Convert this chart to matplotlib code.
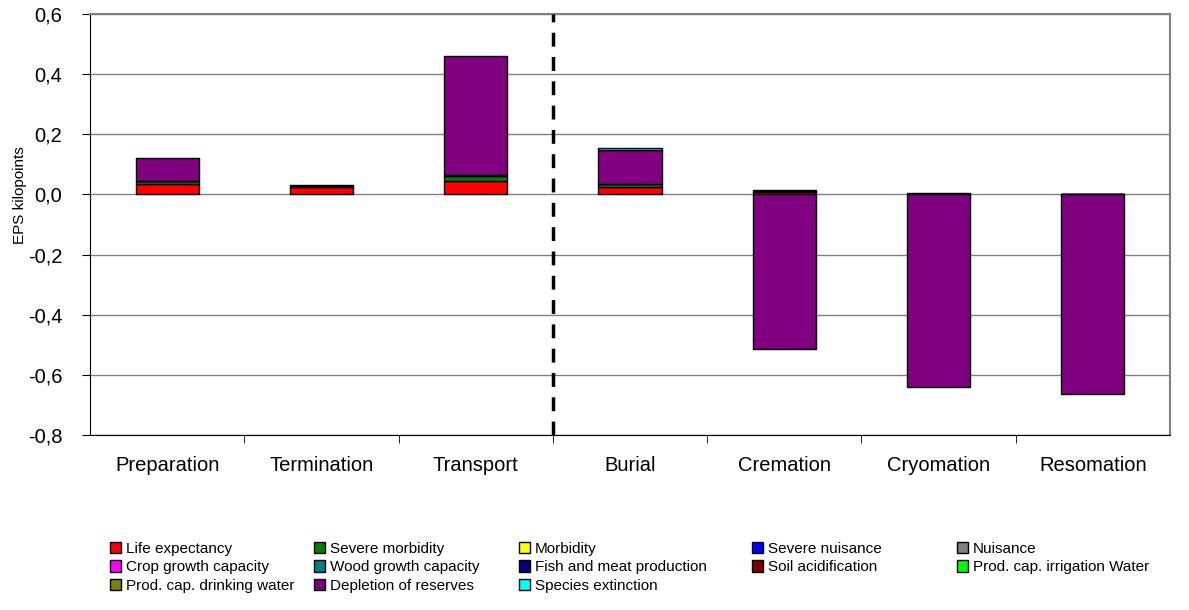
import numpy as np
import matplotlib
matplotlib.use("Agg")
import matplotlib.pyplot as plt
from matplotlib.patches import Patch

plt.rcParams["font.family"] = ["Liberation Sans", "DejaVu Sans"]

# ── Data ────────────────────────────────────────────────────────────────────
categories = ["Preparation", "Termination", "Transport", "Burial",
              "Cremation", "Cryomation", "Resomation"]

series_names = ["Life expectancy", "Severe morbidity", "Morbidity",
                "Severe nuisance", "Nuisance", "Crop growth capacity",
                "Wood growth capacity", "Fish and meat production",
                "Soil acidification", "Prod. cap. irrigation Water",
                "Prod. cap. drinking water", "Depletion of reserves",
                "Species extinction"]

series_colors = ["#FF0000", "#008000", "#FFFF00", "#0000FF", "#808080",
                 "#FF00FF", "#008080", "#000080", "#800000", "#00FF00",
                 "#808000", "#800080", "#00FFFF"]

life_expectancy   = [0.033, 0.024, 0.043, 0.025, 0.008, 0.002, 0.001]
severe_morbidity  = [0.010, 0.004, 0.017, 0.008, 0.003, 0.001, 0.001]
morbidity         = [0.000, 0.000, 0.000, 0.000, 0.000, 0.000, 0.000]
severe_nuisance   = [0.000, 0.000, 0.000, 0.000, 0.000, 0.000, 0.000]
nuisance          = [0.000, 0.000, 0.000, 0.000, 0.000, 0.000, 0.000]
crop_growth       = [0.000, 0.000, 0.000, 0.000, 0.000, 0.000, 0.000]
wood_growth       = [0.000, 0.000, 0.000, 0.000, 0.000, 0.000, 0.000]
fish_meat         = [0.000, 0.000, 0.000, 0.000, 0.000, 0.000, 0.000]
soil_acidif       = [0.003, 0.002, 0.005, 0.003, 0.004, 0.002, 0.001]
prod_irrigation   = [0.000, 0.000, 0.000, 0.000, 0.000, 0.000, 0.000]
prod_drinking     = [0.000, 0.000, 0.000, 0.000, 0.000, 0.000, 0.000]
depletion         = [0.074, 0.000, 0.396, 0.111, -0.513, -0.640, -0.665]
species_extinct   = [0.000, 0.000, 0.000, 0.008, 0.000, 0.000, 0.000]

series_values = [life_expectancy, severe_morbidity, morbidity, severe_nuisance,
                 nuisance, crop_growth, wood_growth, fish_meat, soil_acidif,
                 prod_irrigation, prod_drinking, depletion, species_extinct]

y_ticks = [-0.8, -0.6, -0.4, -0.2, 0.0, 0.2, 0.4, 0.6]

# ── Plot ────────────────────────────────────────────────────────────────────
fig = plt.figure(figsize=(11.89, 6.10), dpi=100)
ax = fig.add_axes([0.0757, 0.287, 0.9083, 0.690])

x = np.arange(len(categories))
pos_bottom = np.zeros(len(categories))
neg_bottom = np.zeros(len(categories))
for name, vals, col in zip(series_names, series_values, series_colors):
    v = np.array(vals, dtype=float)
    pos = np.where(v > 0, v, 0.0)
    neg = np.where(v < 0, v, 0.0)
    if pos.any():
        m = pos > 0
        ax.bar(x[m], pos[m], bottom=pos_bottom[m], width=0.41, color=col,
               edgecolor="black", linewidth=1.0, zorder=3)
    if neg.any():
        m = neg < 0
        ax.bar(x[m], neg[m], bottom=neg_bottom[m], width=0.41, color=col,
               edgecolor="black", linewidth=1.0, zorder=3)
    pos_bottom += pos
    neg_bottom += neg

ax.set_xlim(-0.5, len(categories) - 0.5)
ax.set_ylim(-0.8, 0.6)
ax.set_yticks(y_ticks)
ax.set_yticklabels([f"{t:.1f}".replace(".", ",") for t in y_ticks])
ax.yaxis.grid(True, color="#808080", linewidth=1.0, zorder=0)
ax.set_axisbelow(True)

ax.set_xticks(x)
ax.set_xticklabels(categories)
ax.tick_params(axis="x", length=0, pad=15, labelsize=14.5)
ax.set_xticks(np.arange(0.5, len(categories) - 0.5), minor=True)
ax.tick_params(axis="x", which="minor", length=6, direction="out", color="black")
ax.tick_params(axis="y", length=6, direction="out", labelsize=14.5, pad=14)

ax.spines["top"].set_color("#808080")
ax.spines["right"].set_color("#808080")
ax.spines["right"].set_linewidth(1.5)
ax.spines["top"].set_linewidth(1.5)

# divider between process stages and disposal methods
ax.axvline(2.5, color="black", linestyle=(0, (4, 3)), linewidth=2.5, zorder=4)

ax.set_ylabel("EPS kilopoints", fontsize=11)
ax.yaxis.set_label_coords(-0.0583, 0.57)

# legend: 5 fixed-position columns, filled row by row like the original
handles = [Patch(facecolor=c, edgecolor="black", linewidth=1.0) for c in series_colors]
ncol, n = 5, len(series_names)
col_x = [110, 314, 519, 752, 957]
for c in range(ncol):
    idx = [r * ncol + c for r in range(3) if r * ncol + c < n]
    fig.legend([handles[i] for i in idx], [series_names[i] for i in idx],
               loc="upper left", bbox_to_anchor=(col_x[c] / 1189, 1 - 542 / 610),
               borderaxespad=0, borderpad=0, frameon=False, fontsize=11,
               handlelength=0.75, handleheight=0.75, handletextpad=0.3,
               labelspacing=0.28)

fig.savefig("out.png", dpi=100)
